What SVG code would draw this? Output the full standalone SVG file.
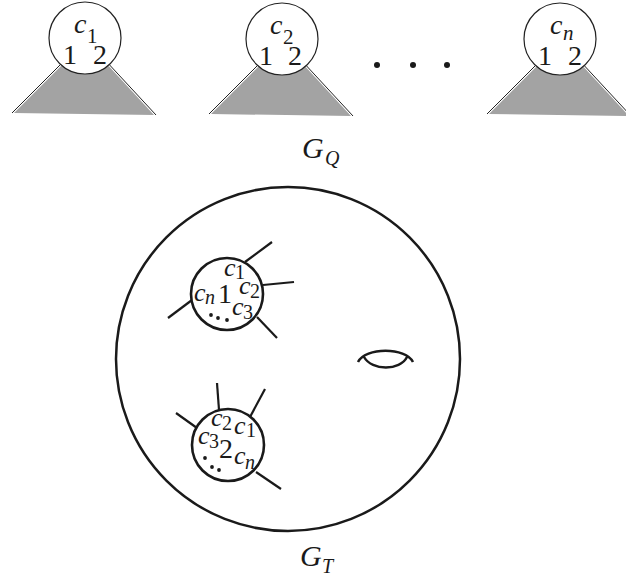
<svg xmlns="http://www.w3.org/2000/svg" width="626" height="578" viewBox="0 0 626 578" font-family="'Liberation Serif', 'Times New Roman', serif">
<style>
text{font-family:"Liberation Serif","Times New Roman",serif;fill:#1a1a1a}
.i{font-style:italic}
.c{font-size:28px}
.s{font-size:21px}
.d{font-size:28px}
.g{font-size:30px}
.gs{font-size:20px}
.sc{font-size:26px}
.ss{font-size:20px}
.tri{fill:#a3a3a3;stroke:none}
.edge{stroke:#222;stroke-width:1;fill:none}
.top{fill:#fff;stroke:#222;stroke-width:1.2}
.big{fill:none;stroke:#1a1a1a;stroke-width:2.5}
.sm{fill:#fff;stroke:#1a1a1a;stroke-width:2.6}
.sp{stroke:#1a1a1a;stroke-width:2.2}
.dot{fill:#1a1a1a}
</style>
<defs>
<g id="treeShape">
<polygon class="tri" points="-71,75 -20,24 20,24 69,77"/>
<line class="edge" x1="-73" y1="75" x2="-20" y2="22"/>
<line class="edge" x1="20" y1="22" x2="71" y2="77"/>
<circle class="top" cx="0" cy="0" r="36"/>
</g>
</defs>
<g id="tree1" transform="translate(85,38)">
<use href="#treeShape"/>
<text class="i c" x="-11" y="-5">c</text><text class="s" x="2" y="5">1</text>
<text class="d" x="-22" y="26">1</text><text class="d" x="8" y="26">2</text>
</g>
<g id="tree2" transform="translate(282,39)">
<use href="#treeShape"/>
<text class="i c" x="-12" y="-5">c</text><text class="s" x="1" y="5">2</text>
<text class="d" x="-23" y="26">1</text><text class="d" x="6" y="26">2</text>
</g>
<g id="tree3" transform="translate(560,39)">
<use href="#treeShape"/>
<text class="i c" x="-10" y="-5">c</text><text class="i s" x="3" y="1">n</text>
<text class="d" x="-22" y="26">1</text><text class="d" x="8" y="26">2</text>
</g>
<g id="ellipsis">
<circle class="dot" cx="377" cy="65" r="3"/>
<circle class="dot" cx="413" cy="65" r="3"/>
<circle class="dot" cx="447" cy="65" r="3"/>
</g>
<g id="labelGQ">
<text class="i g" x="302" y="158">G</text><text class="i gs" x="325" y="165">Q</text>
</g>
<g id="GT">
<circle class="big" cx="288" cy="359" r="172"/>
<path class="big" d="M358,362 C365,347 406,347 413,362 M364,357 C372,371 400,371 407,357"/>
</g>
<g id="connectors">
<line class="sp" x1="245" y1="262" x2="272" y2="242"/>
<line class="sp" x1="263" y1="285" x2="294" y2="282"/>
<line class="sp" x1="257" y1="317" x2="277" y2="338"/>
<line class="sp" x1="192" y1="300" x2="168" y2="318"/>
<line class="sp" x1="219" y1="410" x2="217" y2="383"/>
<line class="sp" x1="250" y1="417" x2="265" y2="389"/>
<line class="sp" x1="197" y1="428" x2="176" y2="413"/>
<line class="sp" x1="256" y1="472" x2="281" y2="489"/>
</g>
<g id="node1">
<circle class="sm" cx="227" cy="294" r="36"/>
<text class="i sc" x="224" y="276">c</text><text class="ss" x="235" y="279">1</text>
<text class="i sc" x="239" y="294">c</text><text class="ss" x="250" y="298">2</text>
<text class="i sc" x="194" y="301">c</text><text class="i ss" x="205" y="304">n</text>
<text class="d" x="218" y="303">1</text>
<text class="i sc" x="232" y="315">c</text><text class="ss" x="243" y="319">3</text>
<circle class="dot" cx="211" cy="315" r="1.9"/>
<circle class="dot" cx="218" cy="318" r="1.9"/>
<circle class="dot" cx="227" cy="320" r="1.9"/>
</g>
<g id="node2">
<circle class="sm" cx="228" cy="445" r="36"/>
<text class="i sc" x="211" y="426">c</text><text class="ss" x="222" y="430">2</text>
<text class="i sc" x="234" y="434">c</text><text class="ss" x="246" y="437">1</text>
<text class="i sc" x="198" y="444">c</text><text class="ss" x="209" y="448">3</text>
<text class="d" x="219" y="458">2</text>
<text class="i sc" x="234" y="464">c</text><text class="i ss" x="245" y="469">n</text>
<circle class="dot" cx="205" cy="458" r="1.9"/>
<circle class="dot" cx="212" cy="467" r="1.9"/>
<circle class="dot" cx="219" cy="470" r="1.9"/>
</g>
<g id="labelGT">
<text class="i g" x="300" y="566">G</text><text class="i gs" x="322" y="573">T</text>
</g>
</svg>
